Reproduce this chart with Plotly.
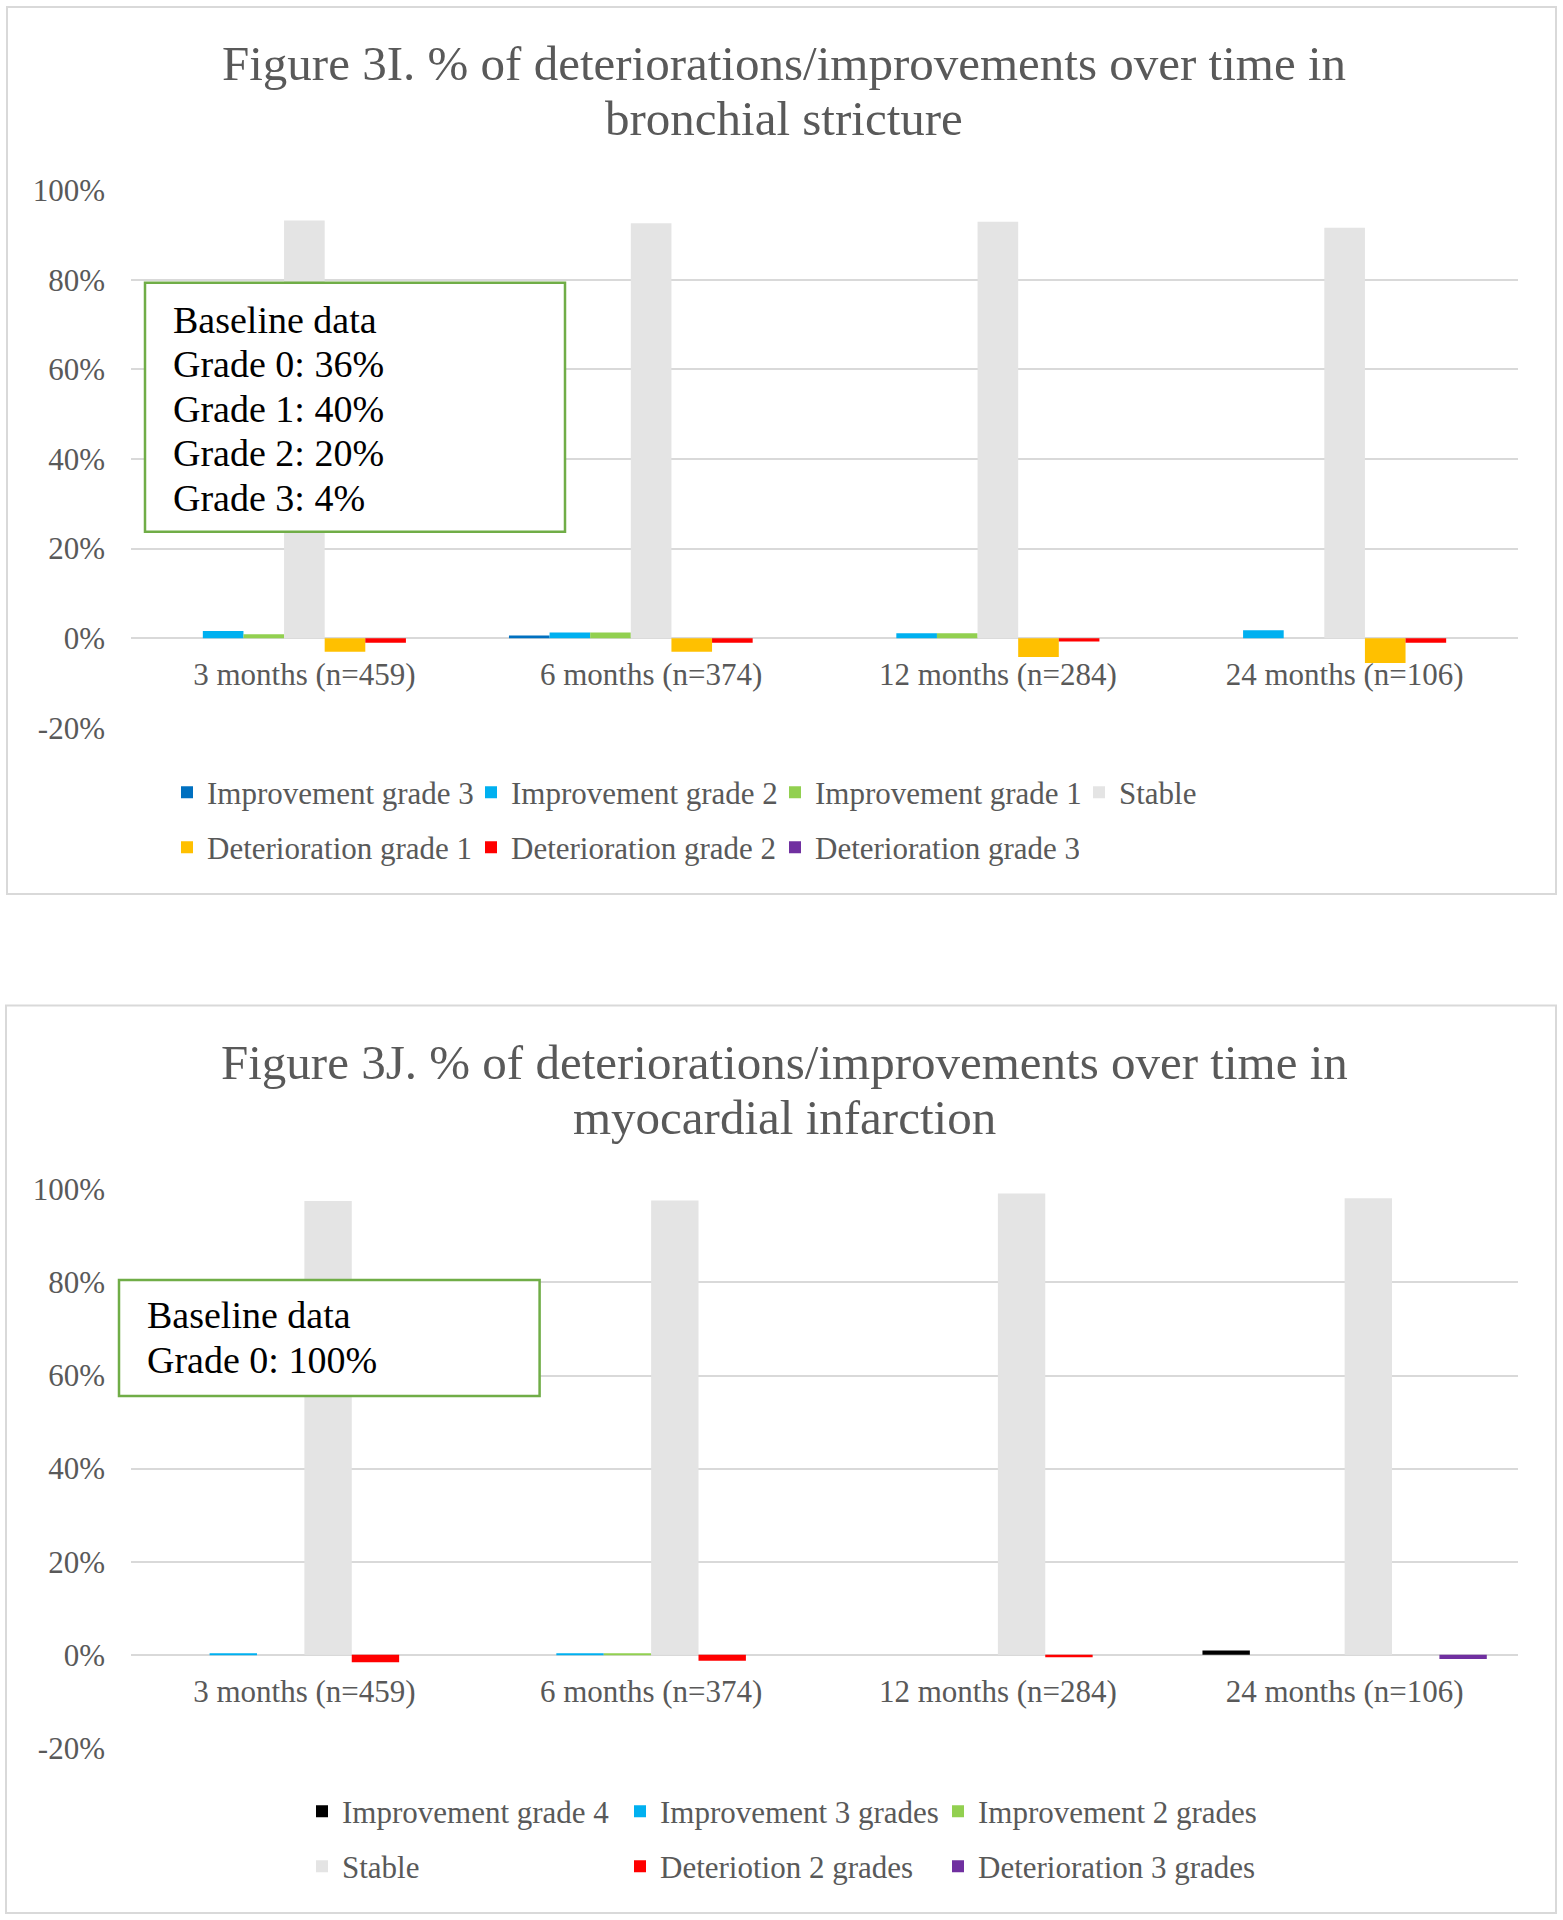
import plotly.graph_objects as go

# ---------------- data ----------------
categories = ["3 months (n=459)", "6 months (n=374)", "12 months (n=284)", "24 months (n=106)"]

# Figure 3I - bronchial stricture (%)
bs_improvement_grade3 = [0.0, 0.6, 0.0, 0.0]
bs_improvement_grade2 = [1.6, 1.3, 1.1, 1.8]
bs_improvement_grade1 = [0.9, 1.3, 1.1, 0.0]
bs_stable = [93.2, 92.6, 92.9, 91.6]
bs_deterioration_grade1 = [-3.0, -3.0, -4.2, -5.5]
bs_deterioration_grade2 = [-1.0, -1.0, -0.7, -1.0]
bs_deterioration_grade3 = [0.0, 0.0, 0.0, 0.0]

# Figure 3J - myocardial infarction (%)
mi_improvement_grade4 = [0.0, 0.0, 0.0, 0.9]
mi_improvement_3grades = [0.3, 0.2, 0.0, 0.0]
mi_improvement_2grades = [0.0, 0.2, 0.0, 0.0]
mi_stable = [97.5, 97.6, 99.1, 98.1]
mi_deterioration_2grades = [-1.6, -1.3, -0.5, 0.0]
mi_deterioration_3grades = [0.0, 0.0, 0.0, -0.9]

y_tick_vals = [-20, 0, 20, 40, 60, 80, 100]
y_tick_text = ["-20%", "0%", "20%", "40%", "60%", "80%", "100%"]
y_range = [-20, 100]

baseline_bs = ["Baseline data", "Grade 0: 36%", "Grade 1: 40%", "Grade 2: 20%", "Grade 3: 4%"]
baseline_mi = ["Baseline data", "Grade 0: 100%"]

title_bs = ["Figure 3I. % of deteriorations/improvements over time in", "bronchial stricture"]
title_mi = ["Figure 3J. % of deteriorations/improvements over time in", "myocardial infarction"]

# ---------------- layout helpers ----------------
W, H = 1563, 1920
FONT = "Liberation Serif"
GREY_TXT = "#595959"
GRID = "#D9D9D9"


def px_x(x):
    return x / W


def px_y(y):
    return 1 - y / H


fig = go.Figure()

series_bs = [
    ("Improvement grade 3", bs_improvement_grade3, "#0070C0", "legend"),
    ("Improvement grade 2", bs_improvement_grade2, "#00B0F0", "legend"),
    ("Improvement grade 1", bs_improvement_grade1, "#92D050", "legend"),
    ("Stable", bs_stable, "#E4E4E4", "legend"),
    ("Deterioration grade 1", bs_deterioration_grade1, "#FFC000", "legend2"),
    ("Deterioration grade 2", bs_deterioration_grade2, "#FF0000", "legend2"),
    ("Deterioration grade 3", bs_deterioration_grade3, "#7030A0", "legend2"),
]
for name, vals, col, lg in series_bs:
    fig.add_trace(go.Bar(x=categories, y=vals, name=name, marker=dict(color=col, line=dict(width=0)),
                         xaxis="x", yaxis="y", legend=lg))

series_mi = [
    ("Improvement grade 4", mi_improvement_grade4, "#000000", "legend3"),
    ("Improvement 3 grades", mi_improvement_3grades, "#00B0F0", "legend3"),
    ("Improvement 2 grades", mi_improvement_2grades, "#92D050", "legend3"),
    ("Stable", mi_stable, "#E4E4E4", "legend4"),
    ("Deteriotion 2 grades", mi_deterioration_2grades, "#FF0000", "legend4"),
    ("Deterioration 3 grades", mi_deterioration_3grades, "#7030A0", "legend4"),
]
for name, vals, col, lg in series_mi:
    fig.add_trace(go.Bar(x=categories, y=vals, name=name, marker=dict(color=col, line=dict(width=0)),
                         xaxis="x2", yaxis="y2", legend=lg))

x_dom = [px_x(131), px_x(1518)]
y1_dom = [px_y(727.9), px_y(190)]
y2_dom = [px_y(1747.9), px_y(1189.3)]


def zero_pos(dom):
    return dom[0] + (0 - y_range[0]) / (y_range[1] - y_range[0]) * (dom[1] - dom[0])


yaxis_common = dict(range=y_range, tickvals=y_tick_vals, ticktext=y_tick_text, showgrid=True,
                    gridcolor=GRID, gridwidth=2, zeroline=False, showline=False, ticks="",
                    ticklabelstandoff=25, tickfont=dict(family=FONT, size=31, color=GREY_TXT),
                    fixedrange=True, automargin=False)
xaxis_common = dict(domain=x_dom, showgrid=False, zeroline=False, showline=False, ticks="",
                    ticklabelstandoff=15, tickfont=dict(family=FONT, size=31, color=GREY_TXT),
                    anchor="free", fixedrange=True, type="category", automargin=False)

legend_common = dict(orientation="h", xanchor="left", yanchor="middle", itemwidth=30,
                     font=dict(family=FONT, size=31, color=GREY_TXT), bgcolor="rgba(0,0,0,0)",
                     itemclick=False, itemdoubleclick=False)

fig.update_layout(
    template="none",
    width=W, height=H, margin=dict(l=0, r=0, t=0, b=0, pad=0, autoexpand=False),
    paper_bgcolor="white", plot_bgcolor="white",
    barmode="group", bargap=0.18, bargroupgap=0,
    font=dict(family=FONT, color=GREY_TXT),
    xaxis=dict(xaxis_common, position=zero_pos(y1_dom)),
    yaxis=dict(yaxis_common, domain=y1_dom, anchor="x"),
    xaxis2=dict(xaxis_common, position=zero_pos(y2_dom)),
    yaxis2=dict(yaxis_common, domain=y2_dom, anchor="x2"),
    legend=dict(legend_common, x=px_x(167), y=px_y(792.5), entrywidth=259),
    legend2=dict(legend_common, x=px_x(167), y=px_y(847.5), entrywidth=259),
    legend3=dict(legend_common, x=px_x(302), y=px_y(1811.5), entrywidth=273),
    legend4=dict(legend_common, x=px_x(302), y=px_y(1866.5), entrywidth=273),
    showlegend=True,
)

shapes = [
    # panel borders
    dict(type="rect", xref="paper", yref="paper", x0=px_x(7), x1=px_x(1556), y0=px_y(894), y1=px_y(7),
         line=dict(color=GRID, width=2), fillcolor="rgba(0,0,0,0)", layer="below"),
    dict(type="rect", xref="paper", yref="paper", x0=px_x(6), x1=px_x(1556), y0=px_y(1913), y1=px_y(1005.5),
         line=dict(color=GRID, width=2), fillcolor="rgba(0,0,0,0)", layer="below"),
    # baseline boxes
    dict(type="rect", xref="paper", yref="paper", x0=px_x(145), x1=px_x(565), y0=px_y(531.7), y1=px_y(282.7),
         line=dict(color="#70AD47", width=2.5), fillcolor="white", layer="above"),
    dict(type="rect", xref="paper", yref="paper", x0=px_x(119), x1=px_x(539.6), y0=px_y(1396), y1=px_y(1280),
         line=dict(color="#70AD47", width=2.5), fillcolor="white", layer="above"),
]
fig.update_layout(shapes=shapes)

annotations = []
# titles (two lines each)
for lines, base_y in ((title_bs, 63.4), (title_mi, 1062.4)):
    for i, t in enumerate(lines):
        annotations.append(dict(text=t, xref="paper", yref="paper", x=px_x(784), y=px_y(base_y + 55.5 * i),
                                xanchor="center", yanchor="middle", showarrow=False,
                                font=dict(family=FONT, size=49, color=GREY_TXT)))
# baseline text
for lines, first_y, left in ((baseline_bs, 320.1, 171), (baseline_mi, 1315.1, 144.5)):
    for i, t in enumerate(lines):
        annotations.append(dict(text=t, xref="paper", yref="paper", x=px_x(left), y=px_y(first_y + 44.4 * i),
                                xanchor="left", yanchor="middle", showarrow=False,
                                font=dict(family=FONT, size=38, color="black")))
fig.update_layout(annotations=annotations)

fig.write_html("out.html", config={"displayModeBar": False},
               post_script="document.body.style.margin='0';document.body.style.overflow='hidden';")
